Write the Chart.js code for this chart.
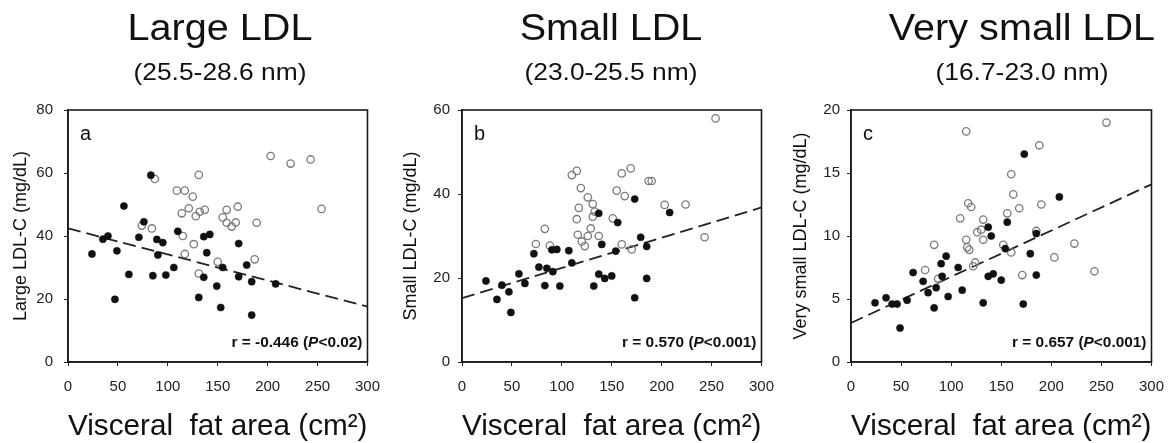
<!DOCTYPE html>
<html><head><meta charset="utf-8">
<script src="https://cdn.jsdelivr.net/npm/chart.js@4.4.1/dist/chart.umd.min.js"></script>
<style>
html,body{margin:0;padding:0;background:#fff;overflow:hidden;width:1170px;height:443px;}
.p{position:absolute;top:0;height:443px;}
canvas{display:block;}
</style></head><body>
<div class="p" style="left:0px"><canvas id="ca" width="392" height="443"></canvas></div>
<div class="p" style="left:390px"><canvas id="cb" width="396" height="443"></canvas></div>
<div class="p" style="left:780px"><canvas id="cc" width="396" height="443"></canvas></div>
<script>
// ---------- data ----------
const xTicks = [0, 50, 100, 150, 200, 250, 300];
const xTitle = 'Visceral  fat area (cm\u00B2)';
const fitX = [0, 300];

const titlesMain = ['Large LDL', 'Small LDL', 'Very small LDL'];
const titlesSub = ['(25.5-28.6 nm)', '(23.0-25.5 nm)', '(16.7-23.0 nm)'];
const yTitles = ['Large LDL-C (mg/dL)', 'Small LDL-C (mg/dL)', 'Very small LDL-C (mg/dL)'];
const panelLetters = ['a', 'b', 'c'];
const rValues = ['-0.446', '0.570', '0.657'];
const pValues = ['<0.02', '<0.001', '<0.001'];

const yTicksA = [0, 20, 40, 60, 80];
const yTicksB = [0, 20, 40, 60];
const yTicksC = [0, 5, 10, 15, 20];

const largeFilled = [[24,34.3],[35,39.0],[40,40.0],[47,19.9],[49,35.3],[56,49.5],[61,27.8],[71,39.6],[76,44.5],[83,59.3],[85,27.4],[89,38.9],[90,34.0],[95,37.9],[98,27.6],[106,30.0],[110,41.5],[131,20.5],[136,39.8],[136,26.9],[139,34.7],[142,40.5],[149,24.1],[153,17.3],[155,30.0],[171,37.6],[171,27.1],[179,30.8],[184,25.5],[184,14.9],[208,24.8]];
const largeOpen = [[74,43.3],[84,42.4],[87,58.1],[109,54.4],[115,40.0],[117,54.4],[117,34.3],[114,47.2],[121,48.8],[125,52.5],[126,37.4],[128,46.3],[131,59.4],[131,28.1],[132,47.7],[137,48.3],[150,31.8],[155,45.9],[159,48.3],[159,44.2],[164,43.0],[168,44.3],[170,49.3],[187,32.6],[189,44.2],[203,65.4],[223,63.0],[243,64.3],[254,48.6]];
const largeFit = [42.4, 17.6];

const smallFilled = [[24,19.3],[35,14.9],[40,18.3],[47,16.7],[49,11.8],[57,21.0],[63,18.7],[72,25.8],[77,22.6],[83,18.2],[85,22.3],[90,26.7],[91,21.5],[95,26.8],[98,18.1],[107,26.5],[110,23.6],[132,18.1],[137,35.4],[137,20.9],[140,28.0],[143,19.9],[150,20.5],[154,26.4],[156,33.2],[173,38.8],[173,15.3],[179,29.7],[185,27.5],[185,19.9],[208,35.6]];
const smallOpen = [[74,28.1],[83,31.7],[88,27.7],[110,44.5],[115,45.5],[115,34.0],[116,30.3],[117,36.7],[119,41.4],[120,28.7],[123,27.6],[126,30.0],[126,39.2],[129,31.8],[131,37.6],[131,34.6],[133,35.8],[137,30.0],[151,34.2],[155,40.8],[160,44.9],[160,28.0],[163,39.5],[169,46.1],[170,26.8],[187,43.1],[190,43.1],[203,37.4],[224,37.5],[243,29.7],[254,58.0]];
const smallFit = [15.2, 36.8];

const vsmallFilled = [[24,4.7],[35,5.1],[41,4.6],[46,4.6],[49,2.7],[56,4.9],[62,7.1],[72,6.4],[77,5.5],[83,4.3],[85,5.9],[90,7.8],[91,6.8],[95,8.4],[97,5.2],[107,7.5],[111,5.7],[132,4.7],[137,6.8],[137,10.7],[140,10.0],[142,7.0],[150,6.5],[154,9.0],[156,11.1],[172,4.6],[173,16.5],[179,8.6],[185,10.2],[185,6.9],[208,13.1]];
const vsmallOpen = [[74,7.3],[83,9.3],[87,6.6],[109,11.4],[115,18.3],[115,9.7],[116,9.1],[117,12.6],[118,8.9],[120,12.3],[122,7.6],[124,7.9],[126,10.3],[130,10.5],[132,11.3],[132,9.7],[152,9.3],[156,11.8],[160,14.9],[160,8.7],[162,13.3],[168,12.2],[171,6.9],[185,10.4],[188,17.2],[190,12.5],[203,8.3],[223,9.4],[243,7.2],[255,19.0]];
const vsmallFit = [3.1, 14.1];

// ---------- rendering ----------
const FONT = '"Liberation Sans", Arial, Helvetica, sans-serif';
const toPts = arr => arr.map(p => ({x: p[0], y: p[1]}));

const decor = {
  id: 'decor',
  afterDraw(chart, args, o) {
    const ctx = chart.ctx, a = chart.chartArea;
    ctx.save();
    ctx.strokeStyle = '#1a1a1a'; ctx.lineWidth = 1.6;
    ctx.strokeRect(a.left, a.top, a.right - a.left, a.bottom - a.top);
    ctx.fillStyle = '#111';
    ctx.textBaseline = 'alphabetic';
    const wide = (txt, font, cx, y) => {
      ctx.save(); ctx.font = font; ctx.textAlign = 'center';
      ctx.translate(cx, y); ctx.scale(1.1, 1); ctx.fillText(txt, 0, 0); ctx.restore();
    };
    wide(o.title, '36px ' + FONT, o.cx, 40);
    wide(o.subtitle, '24px ' + FONT, o.cx, 80);
    ctx.font = '20px ' + FONT; ctx.textAlign = 'left';
    ctx.fillText(o.letter, a.left + 12, a.top + 30);
    const parts = [
      ['r = ' + o.r + ' (', 'bold 14px ' + FONT],
      ['P', 'italic bold 14px ' + FONT],
      [o.p + ')', 'bold 14px ' + FONT]
    ];
    const sx = 1.1;
    let total = 0;
    parts.forEach(pt => { ctx.font = pt[1]; total += ctx.measureText(pt[0]).width; });
    ctx.save();
    ctx.translate(a.right - 5 - total * sx, a.bottom - 15);
    ctx.scale(sx, 1);
    let x = 0;
    parts.forEach(pt => { ctx.font = pt[1]; ctx.fillText(pt[0], x, 0); x += ctx.measureText(pt[0]).width; });
    ctx.restore();
    ctx.restore();
  }
};

function makeChart(id, filled, open, fit, yTicks, idx, geom) {
  const yMax = yTicks[yTicks.length - 1];
  const yStep = yTicks[1] - yTicks[0];
  new Chart(document.getElementById(id), {
    type: 'scatter',
    data: {
      datasets: [
        {
          type: 'line', data: fitX.map((x, i) => ({x: x, y: fit[i]})),
          borderColor: '#222', borderWidth: 1.8, borderDash: [13, 6],
          pointRadius: 0, fill: false, tension: 0, order: 3
        },
        {
          data: toPts(open), pointRadius: 3.7, pointBorderWidth: 1.3,
          pointBackgroundColor: 'rgba(0,0,0,0)', pointBorderColor: '#7a7a7a', order: 2
        },
        {
          data: toPts(filled), pointRadius: 3.6, pointBorderWidth: 0.5,
          pointBackgroundColor: '#111', pointBorderColor: '#111', order: 1
        }
      ]
    },
    options: {
      responsive: false, animation: false, devicePixelRatio: 1,
      layout: {padding: {top: 110, right: 0, bottom: 0, left: 0}},
      plugins: {
        legend: {display: false}, tooltip: {enabled: false},
        decor: {title: titlesMain[idx], subtitle: titlesSub[idx], letter: panelLetters[idx],
                r: rValues[idx], p: pValues[idx], cx: geom.cx}
      },
      scales: {
        x: {
          type: 'linear', min: 0, max: 300,
          afterBuildTicks: s => { s.ticks = xTicks.map(v => ({value: v})); },
          afterFit: s => { s.height = 81; },
          ticks: {color: '#222', padding: 12, font: {family: FONT, size: 15}},
          grid: {drawOnChartArea: false, tickLength: 4, color: '#222'},
          border: {color: '#1a1a1a', width: 1.6},
          title: {display: true, text: xTitle, color: '#111', font: {family: FONT, size: 30, lineHeight: 1},
                  padding: {top: 0, bottom: 1}}
        },
        y: {
          type: 'linear', min: 0, max: yMax,
          afterBuildTicks: s => { s.ticks = yTicks.map(v => ({value: v})); },
          afterFit: s => { s.width = geom.left; },
          ticks: {color: '#222', padding: geom.tpad, stepSize: yStep, font: {family: FONT, size: 15}},
          grid: {drawOnChartArea: false, tickLength: 4, color: '#222'},
          border: {color: '#1a1a1a', width: 1.6},
          title: {display: true, text: yTitles[idx], color: '#111', font: {family: FONT, size: 18, lineHeight: 1.2},
                  padding: {top: 10, bottom: 0}}
        }
      }
    },
    plugins: [decor]
  });
}

makeChart('ca', largeFilled, largeOpen, largeFit, yTicksA, 0, {left: 68, tpad: 11, cx: 220});
makeChart('cb', smallFilled, smallOpen, smallFit, yTicksB, 1, {left: 72, tpad: 8, cx: 221});
makeChart('cc', vsmallFilled, vsmallOpen, vsmallFit, yTicksC, 2, {left: 71, tpad: 7, cx: 242});
</script>
</body></html>
